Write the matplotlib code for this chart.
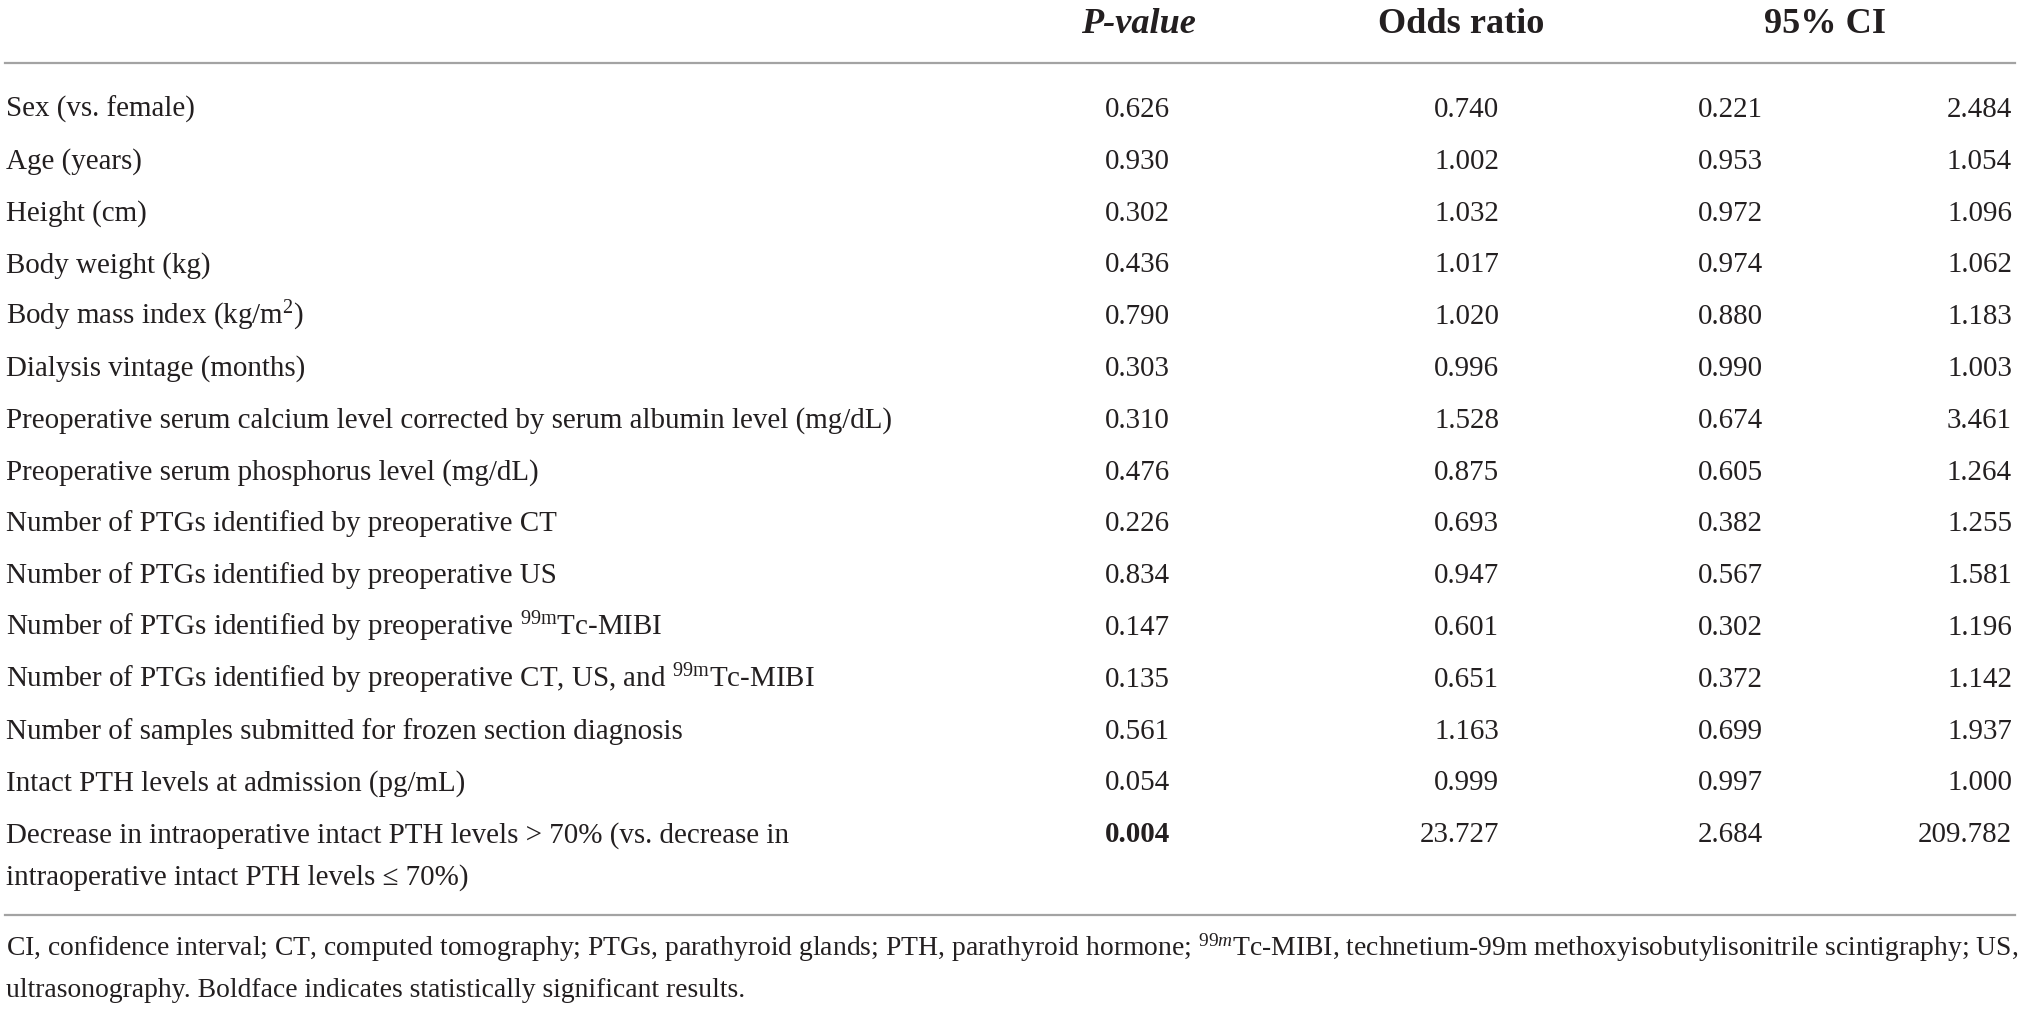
import matplotlib
matplotlib.use("Agg")
import matplotlib.pyplot as plt

plt.rcParams['font.family'] = ['Liberation Serif', 'DejaVu Serif']
plt.rcParams['mathtext.fontset'] = 'custom'
plt.rcParams['mathtext.rm'] = 'Liberation Serif'
plt.rcParams['mathtext.it'] = 'Liberation Serif:italic'

#### Table data ####
headers = ["P-value", "Odds ratio", "95% CI"]
labels = [
    "Sex (vs. female)",
    "Age (years)",
    "Height (cm)",
    "Body weight (kg)",
    "Body mass index (kg/m$^{2}$)",
    "Dialysis vintage (months)",
    "Preoperative serum calcium level corrected by serum albumin level (mg/dL)",
    "Preoperative serum phosphorus level (mg/dL)",
    "Number of PTGs identified by preoperative CT",
    "Number of PTGs identified by preoperative US",
    "Number of PTGs identified by preoperative $^{99\\mathrm{m}}$Tc-MIBI",
    "Number of PTGs identified by preoperative CT, US, and $^{99\\mathrm{m}}$Tc-MIBI",
    "Number of samples submitted for frozen section diagnosis",
    "Intact PTH levels at admission (pg/mL)",
    "Decrease in intraoperative intact PTH levels > 70% (vs. decrease in\n"
    "intraoperative intact PTH levels \u2264 70%)",
]
p_values = ["0.626", "0.930", "0.302", "0.436", "0.790", "0.303", "0.310", "0.476",
            "0.226", "0.834", "0.147", "0.135", "0.561", "0.054", "0.004"]
odds = ["0.740", "1.002", "1.032", "1.017", "1.020", "0.996", "1.528", "0.875",
        "0.693", "0.947", "0.601", "0.651", "1.163", "0.999", "23.727"]
ci_low = ["0.221", "0.953", "0.972", "0.974", "0.880", "0.990", "0.674", "0.605",
          "0.382", "0.567", "0.302", "0.372", "0.699", "0.997", "2.684"]
ci_high = ["2.484", "1.054", "1.096", "1.062", "1.183", "1.003", "3.461", "1.264",
           "1.255", "1.581", "1.196", "1.142", "1.937", "1.000", "209.782"]
significant = [False] * 14 + [True]  # boldface rows

footnote1 = ("CI, confidence interval; CT, computed tomography; PTGs, parathyroid glands; "
             "PTH, parathyroid hormone; $^{99m}$Tc-MIBI, technetium-99m methoxyisobutylisonitrile "
             "scintigraphy; US,")
footnote2 = "ultrasonography. Boldface indicates statistically significant results."

#### Layout (pixels) ####
W, H = 2019, 1010
fig = plt.figure(figsize=(W / 100, H / 100), dpi=100)
renderer = fig.canvas.get_renderer()

def fx(x):
    return x / W

def fy(y):
    return 1 - y / H

def fit_size(txt, target_px, **kw):
    # font size that makes txt about target_px wide
    t = fig.text(0, 0, txt, fontsize=20, **kw)
    w = t.get_window_extent(renderer).width
    t.remove()
    return 20 * target_px / w

fs = fit_size(labels[6], 887)
hfs = fit_size(headers[1], 166, fontweight="bold")
ffs = fit_size(footnote1, 2008)
color = "#231f20"
line_color = "#a3a3a3"
col_right = [1170, 1499, 1763, 2012]  # right edges of value columns
header_x = [1138, 1461, 1825]
row_y0, row_dy = 108, 51.8
base_off = 9  # baseline below visual centre

# headers
fig.text(fx(header_x[0]), fy(33), headers[0], ha="center", va="baseline",
         fontsize=hfs, fontweight="bold", fontstyle="italic", color=color)
for hx, h in zip(header_x[1:], headers[1:]):
    fig.text(fx(hx), fy(33), h, ha="center", va="baseline",
             fontsize=hfs, fontweight="bold", color=color)

# rules
for ly in [63, 915]:
    fig.add_artist(plt.Line2D([fx(5), fx(2015)], [fy(ly), fy(ly)], color=line_color, lw=1.6))

# rows
for i, lab in enumerate(labels):
    y = row_y0 + row_dy * i + base_off
    if "\n" in lab:
        first, second = lab.split("\n")
        fig.text(fx(6), fy(y), first, ha="left", va="baseline", fontsize=fs, color=color)
        fig.text(fx(6), fy(y + 42), second, ha="left", va="baseline", fontsize=fs, color=color)
    else:
        fig.text(fx(6), fy(y), lab, ha="left", va="baseline", fontsize=fs, color=color)
    vals = [p_values[i], odds[i], ci_low[i], ci_high[i]]
    for j, (xr, v) in enumerate(zip(col_right, vals)):
        weight = "bold" if (j == 0 and significant[i]) else "normal"
        fig.text(fx(xr), fy(y), v, ha="right", va="baseline", fontsize=fs,
                 fontweight=weight, color=color)

# footnote
fig.text(fx(6), fy(956), footnote1, ha="left", va="baseline", fontsize=ffs, color=color)
fig.text(fx(6), fy(997), footnote2, ha="left", va="baseline", fontsize=ffs, color=color)

fig.savefig("out.png", dpi=100, facecolor="white")
